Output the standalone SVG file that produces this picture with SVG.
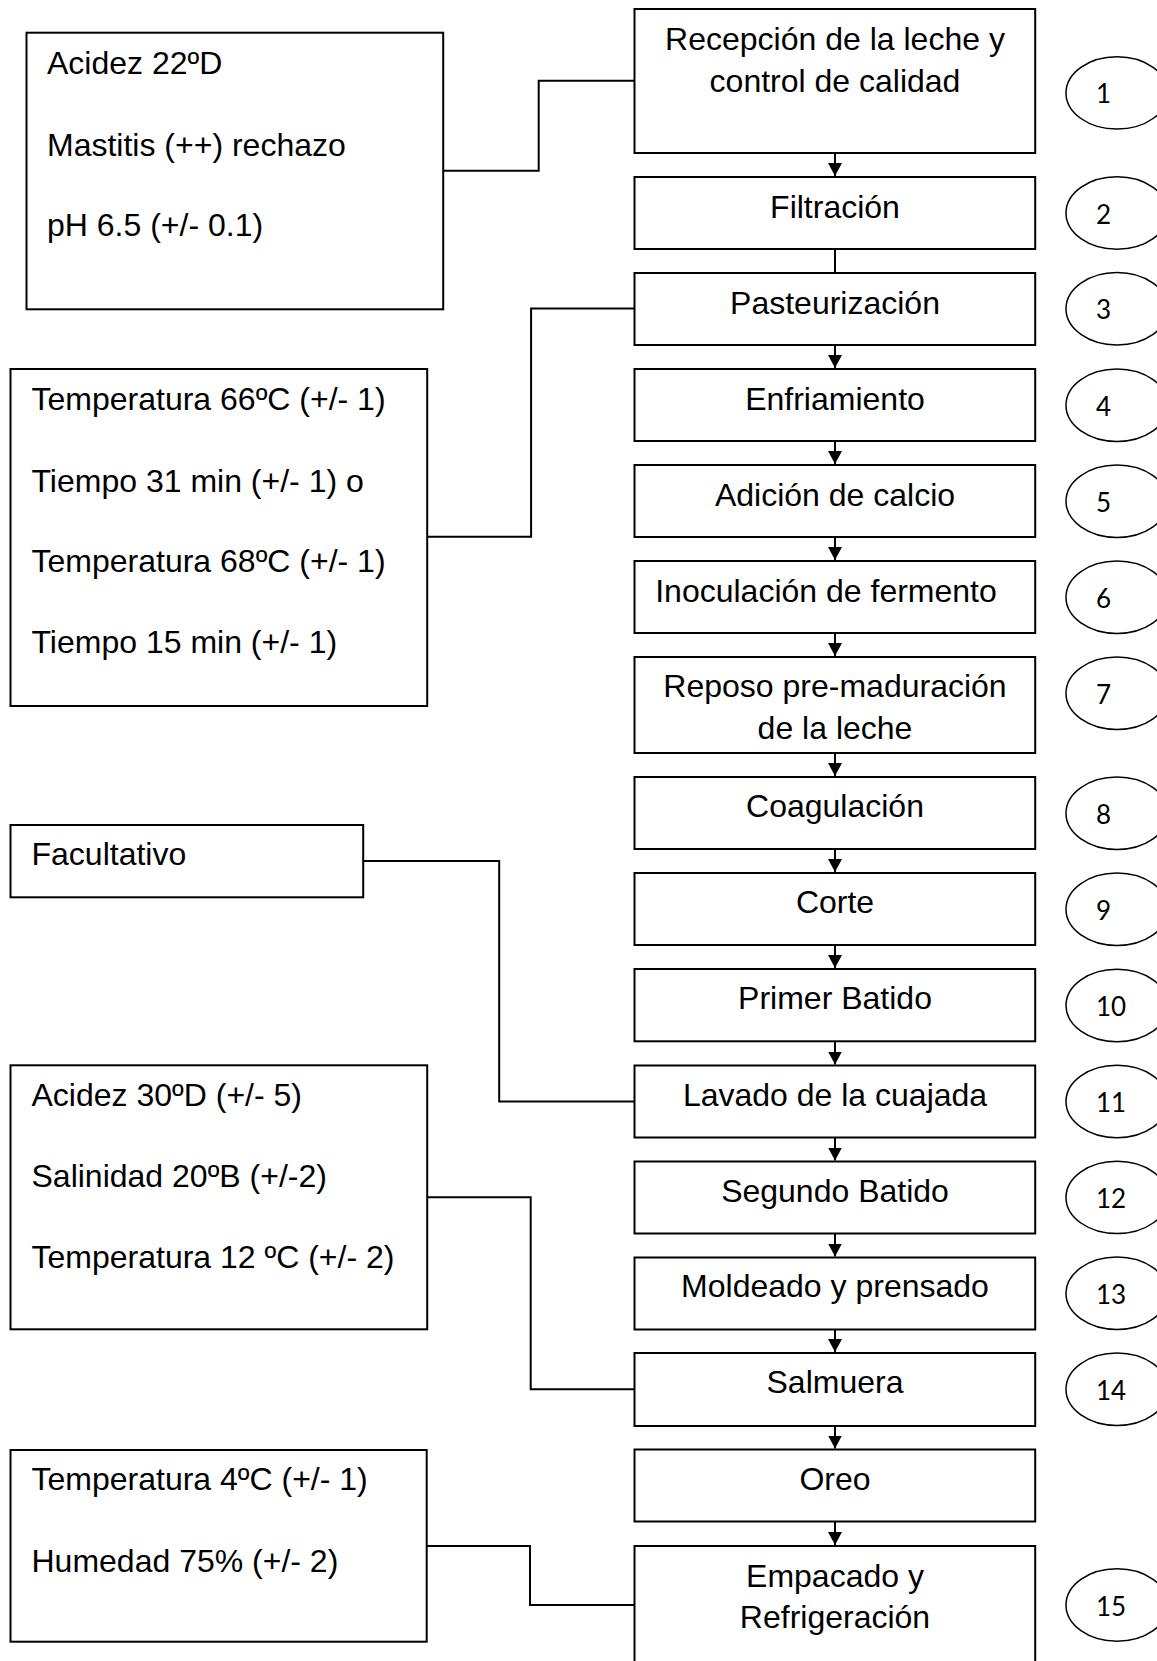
<svg xmlns="http://www.w3.org/2000/svg" width="1157" height="1661" viewBox="0 0 1157 1661">
<style>
.box{fill:#fff;stroke:#000;stroke-width:2}
.ell{fill:#fff;stroke:#000;stroke-width:1.5}
.t{font-family:"Liberation Sans",Arial,sans-serif;font-size:32px;fill:#000}
.c{text-anchor:middle}
.n{font-family:Lato,"Liberation Sans",sans-serif;font-size:26px;fill:#000}
.ln{fill:none;stroke:#000;stroke-width:2}
</style>
<defs>
<marker id="ah" markerWidth="16" markerHeight="16" refX="13" refY="7" orient="auto" markerUnits="userSpaceOnUse">
<path d="M0,0 L13,7 L0,14 Z" fill="#000"/>
</marker>
</defs>
<rect width="1157" height="1661" fill="#fff"/>

<g id="connectors">
<path class="ln" d="M443.2,170.7 H538.7 V80.7 H634.5"/>
<path class="ln" d="M427.2,536.7 H531.1 V308.5 H634.5"/>
<path class="ln" d="M363.2,861 H499.2 V1101.5 H634.5"/>
<path class="ln" d="M427.2,1197.3 H530.7 V1389.3 H634.5"/>
<path class="ln" d="M426.5,1546 H530 V1605 H634.5"/>
<line class="ln" x1="835" y1="153" x2="835" y2="176" marker-end="url(#ah)"/>
<line class="ln" x1="835" y1="249" x2="835" y2="273"/>
<line class="ln" x1="835" y1="345" x2="835" y2="368" marker-end="url(#ah)"/>
<line class="ln" x1="835" y1="441" x2="835" y2="464" marker-end="url(#ah)"/>
<line class="ln" x1="835" y1="537" x2="835" y2="560" marker-end="url(#ah)"/>
<line class="ln" x1="835" y1="633" x2="835" y2="656" marker-end="url(#ah)"/>
<line class="ln" x1="835" y1="753" x2="835" y2="776" marker-end="url(#ah)"/>
<line class="ln" x1="835" y1="849" x2="835" y2="872" marker-end="url(#ah)"/>
<line class="ln" x1="835" y1="945" x2="835" y2="968" marker-end="url(#ah)"/>
<line class="ln" x1="835" y1="1041" x2="835" y2="1064.5" marker-end="url(#ah)"/>
<line class="ln" x1="835" y1="1137.5" x2="835" y2="1160.5" marker-end="url(#ah)"/>
<line class="ln" x1="835" y1="1233.5" x2="835" y2="1256.5" marker-end="url(#ah)"/>
<line class="ln" x1="835" y1="1329.5" x2="835" y2="1352" marker-end="url(#ah)"/>
<line class="ln" x1="835" y1="1426" x2="835" y2="1448.5" marker-end="url(#ah)"/>
<line class="ln" x1="835" y1="1521.5" x2="835" y2="1545" marker-end="url(#ah)"/>
</g>

<g id="note-recepcion">
<rect class="box" x="26.5" y="32.7" width="416.7" height="276.6"/>
<text class="t" x="47" y="74">Acidez 22ºD</text>
<text class="t" x="47" y="155.5">Mastitis (++) rechazo</text>
<text class="t" x="47" y="236">pH 6.5 (+/- 0.1)</text>
</g>
<g id="note-pasteurizacion">
<rect class="box" x="10.5" y="369" width="416.7" height="337"/>
<text class="t" x="31.5" y="410">Temperatura 66ºC (+/- 1)</text>
<text class="t" x="31.5" y="491.5">Tiempo 31 min (+/- 1) o</text>
<text class="t" x="31.5" y="572">Temperatura 68ºC (+/- 1)</text>
<text class="t" x="31.5" y="653">Tiempo 15 min (+/- 1)</text>
</g>
<g id="note-lavado">
<rect class="box" x="10.5" y="825" width="352.7" height="72.3"/>
<text class="t" x="31.5" y="865">Facultativo</text>
</g>
<g id="note-salmuera">
<rect class="box" x="10.5" y="1065.3" width="416.7" height="264"/>
<text class="t" x="31.5" y="1106">Acidez 30ºD (+/- 5)</text>
<text class="t" x="31.5" y="1187">Salinidad 20ºB (+/-2)</text>
<text class="t" x="31.5" y="1268">Temperatura 12 ºC (+/- 2)</text>
</g>
<g id="note-empacado">
<rect class="box" x="10.5" y="1450" width="416.2" height="191.7"/>
<text class="t" x="31.5" y="1490">Temperatura 4ºC (+/- 1)</text>
<text class="t" x="31.5" y="1571.5">Humedad 75% (+/- 2)</text>
</g>

<g id="step1"><rect class="box" x="634.5" y="9" width="400.7" height="144"/>
<text class="t c" x="835" y="50">Recepción de la leche y</text><text class="t c" x="835" y="91.7">control de calidad</text></g>
<g id="step2"><rect class="box" x="634.5" y="177" width="400.7" height="72"/><text class="t c" x="835" y="218.3">Filtración</text></g>
<g id="step3"><rect class="box" x="634.5" y="273" width="400.7" height="72"/><text class="t c" x="835" y="313.5">Pasteurización</text></g>
<g id="step4"><rect class="box" x="634.5" y="369" width="400.7" height="72"/><text class="t c" x="835" y="410">Enfriamiento</text></g>
<g id="step5"><rect class="box" x="634.5" y="465" width="400.7" height="72"/><text class="t c" x="835" y="506">Adición de calcio</text></g>
<g id="step6"><rect class="box" x="634.5" y="561" width="400.7" height="72"/><text class="t c" x="826" y="601.7">Inoculación de fermento</text></g>
<g id="step7"><rect class="box" x="634.5" y="657" width="400.7" height="96"/>
<text class="t c" x="835" y="696.7">Reposo pre-maduración</text><text class="t c" x="835" y="739.3">de la leche</text></g>
<g id="step8"><rect class="box" x="634.5" y="777" width="400.7" height="72"/><text class="t c" x="835" y="816.7">Coagulación</text></g>
<g id="step9"><rect class="box" x="634.5" y="873" width="400.7" height="72"/><text class="t c" x="835" y="913.3">Corte</text></g>
<g id="step10"><rect class="box" x="634.5" y="969" width="400.7" height="72.3"/><text class="t c" x="835" y="1009.3">Primer Batido</text></g>
<g id="step11"><rect class="box" x="634.5" y="1065.5" width="400.7" height="72"/><text class="t c" x="835" y="1106">Lavado de la cuajada</text></g>
<g id="step12"><rect class="box" x="634.5" y="1161.5" width="400.7" height="72"/><text class="t c" x="835" y="1201.7">Segundo Batido</text></g>
<g id="step13"><rect class="box" x="634.5" y="1257.5" width="400.7" height="72"/><text class="t c" x="835" y="1297.3">Moldeado y prensado</text></g>
<g id="step14"><rect class="box" x="634.5" y="1353" width="400.7" height="73"/><text class="t c" x="835" y="1393.3">Salmuera</text></g>
<g id="step-oreo"><rect class="box" x="634.5" y="1449.5" width="400.7" height="72"/><text class="t c" x="835" y="1490">Oreo</text></g>
<g id="step15"><rect class="box" x="634.5" y="1546" width="400.7" height="130"/>
<text class="t c" x="835" y="1586.7">Empacado y</text><text class="t c" x="835" y="1627.7">Refrigeración</text></g>

<g id="num1"><ellipse class="ell" cx="1117" cy="92.9" rx="51" ry="36.2"/><text class="n" x="1096" y="103.4">1</text></g>
<g id="num2"><ellipse class="ell" cx="1117" cy="213" rx="51" ry="36.2"/><text class="n" x="1096" y="223.5">2</text></g>
<g id="num3"><ellipse class="ell" cx="1117" cy="308.8" rx="51" ry="36.2"/><text class="n" x="1096" y="319.3">3</text></g>
<g id="num4"><ellipse class="ell" cx="1117" cy="405.3" rx="51" ry="36.2"/><text class="n" x="1096" y="415.8">4</text></g>
<g id="num5"><ellipse class="ell" cx="1117" cy="501.2" rx="51" ry="36.2"/><text class="n" x="1096" y="511.7">5</text></g>
<g id="num6"><ellipse class="ell" cx="1117" cy="597.2" rx="51" ry="36.2"/><text class="n" x="1096" y="607.7">6</text></g>
<g id="num7"><ellipse class="ell" cx="1117" cy="693.2" rx="51" ry="36.2"/><text class="n" x="1096" y="703.7">7</text></g>
<g id="num8"><ellipse class="ell" cx="1117" cy="813.3" rx="51" ry="36.2"/><text class="n" x="1096" y="823.8">8</text></g>
<g id="num9"><ellipse class="ell" cx="1117" cy="909.3" rx="51" ry="36.2"/><text class="n" x="1096" y="919.8">9</text></g>
<g id="num10"><ellipse class="ell" cx="1117" cy="1005.5" rx="51" ry="36.2"/><text class="n" x="1096" y="1016">10</text></g>
<g id="num11"><ellipse class="ell" cx="1117" cy="1101.5" rx="51" ry="36.2"/><text class="n" x="1096" y="1112">11</text></g>
<g id="num12"><ellipse class="ell" cx="1117" cy="1197.4" rx="51" ry="36.2"/><text class="n" x="1096" y="1207.9">12</text></g>
<g id="num13"><ellipse class="ell" cx="1117" cy="1293.3" rx="51" ry="36.2"/><text class="n" x="1096" y="1303.8">13</text></g>
<g id="num14"><ellipse class="ell" cx="1117" cy="1389.3" rx="51" ry="36.2"/><text class="n" x="1096" y="1399.8">14</text></g>
<g id="num15"><ellipse class="ell" cx="1117" cy="1605" rx="51" ry="36.2"/><text class="n" x="1096" y="1615.5">15</text></g>
</svg>
